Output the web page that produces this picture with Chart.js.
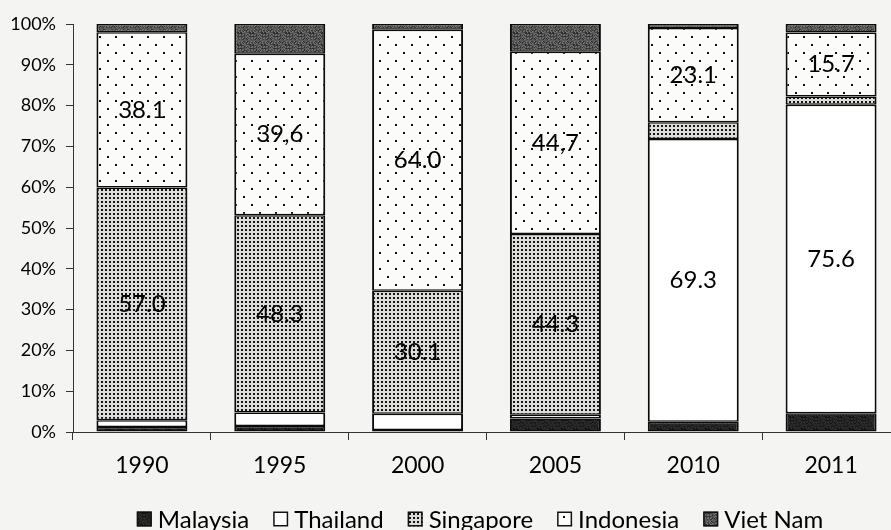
<!DOCTYPE html>
<html>
<head>
<meta charset="utf-8">
<script src="https://cdn.jsdelivr.net/npm/chart.js@4"></script>
<style>
  html, body { margin: 0; padding: 0; background: #f4f4f2; overflow: hidden; }
  #wrap { width: 905px; height: 530px; }
</style>
</head>
<body>
<div id="wrap"><canvas id="chart" width="905" height="530"></canvas></div>
<script>
// categories and shares (%), bottom to top of each bar
const years = ['1990', '1995', '2000', '2005', '2010', '2011'];
const malaysia  = [1.2, 1.5, 0.5, 3.3, 2.5, 4.6];
const thailand  = [1.7, 3.3, 4.0, 0.9, 69.3, 75.6];
const singapore = [57.0, 48.3, 30.1, 44.3, 4.1, 2.0];
const indonesia = [38.1, 39.6, 64.0, 44.7, 23.1, 15.7];
const vietnam   = [2.0, 7.3, 1.4, 6.8, 1.0, 2.1];

// printed values inside the bars (null = no label)
const thailandLabels  = [null, null, null, null, '69.3', '75.6'];
const singaporeLabels = ['57.0', '48.3', '30.1', '44.3', null, null];
const indonesiaLabels = ['38.1', '39,6', '64.0', '44,7', '23.1', '15.7'];

const FONT = 'Lato, "Open Sans", sans-serif';

// ---- fill patterns ----
function makePattern(w, h, draw){
  const c = document.createElement('canvas');
  c.width = w; c.height = h;
  const g = c.getContext('2d');
  draw(g);
  return g.createPattern(c, 'repeat');
}

// grainy dark fill, deterministic speckle
function speckle(base, spread){
  return makePattern(12, 12, g=>{
    for (let y = 0; y < 12; y++){
      for (let x = 0; x < 12; x++){
        const n = ((x * 37 + y * 53 + x * y * 11) % 9) - 4;
        const v = Math.max(0, Math.min(255, base + n * spread));
        g.fillStyle = `rgb(${v},${v},${v})`;
        g.fillRect(x, y, 1, 1);
      }
    }
  });
}

const fillMalaysia = speckle(34, 4);
const fillThailand = '#ffffff';
const fillSingapore = makePattern(4, 4, g=>{
  g.fillStyle = '#dcdcda'; g.fillRect(0, 0, 4, 4);
  g.fillStyle = '#141414'; g.fillRect(1, 1, 2, 2);
});
const fillIndonesia = makePattern(16, 16, g=>{
  g.fillStyle = '#fbfbfa'; g.fillRect(0, 0, 16, 16);
  g.fillStyle = '#111';
  g.fillRect(3, 4, 2, 2);
  g.fillRect(11, 12, 2, 2);
});
const fillVietnam = speckle(80, 9);

const barBorder = { left: 2, right: 2, top: 1.5, bottom: 1.5 };

function ds(label, data, fill, labels){
  return {
    label, data,
    backgroundColor: fill,
    borderColor: '#0a0a0a',
    borderWidth: barBorder,
    borderSkipped: false,
    categoryPercentage: 0.66,
    barPercentage: 1.0,
    valueLabels: labels || null
  };
}

// value text centred in each labelled segment
const segmentLabels = {
  id: 'segmentLabels',
  afterDatasetsDraw(chart){
    const ctx = chart.ctx;
    ctx.save();
    ctx.font = '24px ' + FONT;
    ctx.fillStyle = '#000';
    ctx.textAlign = 'center';
    ctx.textBaseline = 'middle';
    chart.data.datasets.forEach((d, i)=>{
      if (!d.valueLabels) return;
      chart.getDatasetMeta(i).data.forEach((bar, j)=>{
        const t = d.valueLabels[j];
        if (!t) return;
        ctx.fillText(t, bar.x, (bar.y + bar.base) / 2);
      });
    });
    ctx.restore();
  }
};

// legend row along the bottom
const bottomLegend = {
  id: 'bottomLegend',
  afterDraw(chart){
    const ctx = chart.ctx;
    const box = 15, gapText = 6, gapItem = 24, cy = 519, centre = 480;
    ctx.save();
    ctx.font = '24px ' + FONT;
    ctx.textBaseline = 'middle';
    const items = chart.data.datasets.map(d=>({ d, w: ctx.measureText(d.label).width }));
    const total = items.reduce((s, it)=> s + box + gapText + it.w, 0) + gapItem * (items.length - 1);
    let x = centre - total / 2;
    items.forEach(it=>{
      ctx.fillStyle = it.d.backgroundColor;
      ctx.fillRect(x, cy - box / 2, box, box);
      ctx.strokeStyle = '#111';
      ctx.lineWidth = 1.5;
      ctx.strokeRect(x + 0.75, cy - box / 2 + 0.75, box - 1.5, box - 1.5);
      ctx.fillStyle = '#000';
      ctx.fillText(it.d.label, x + box + gapText, cy + 1);
      x += box + gapText + it.w + gapItem;
    });
    ctx.restore();
  }
};

new Chart(document.getElementById('chart'), {
  type: 'bar',
  data: {
    labels: years,
    datasets: [
      ds('Malaysia', malaysia, fillMalaysia),
      ds('Thailand', thailand, fillThailand, thailandLabels),
      ds('Singapore', singapore, fillSingapore, singaporeLabels),
      ds('Indonesia', indonesia, fillIndonesia, indonesiaLabels),
      ds('Viet Nam', vietnam, fillVietnam)
    ]
  },
  options: {
    responsive: false,
    animation: false,
    layout: { padding: { top: 24, right: 5, bottom: 48, left: 0 } },
    plugins: { legend: { display: false }, tooltip: { enabled: false } },
    scales: {
      x: {
        stacked: true,
        offset: true,
        grid: { offset: true, drawOnChartArea: false, tickLength: 8, color: '#333', tickColor: '#333' },
        border: { color: '#333', width: 1 },
        ticks: { color: '#000', font: { family: FONT, size: 23 }, padding: 12 },
        afterFit(s){ s.height = 50; }
      },
      y: {
        stacked: true,
        min: 0, max: 100,
        grid: { drawOnChartArea: false, tickLength: 7, color: '#333', tickColor: '#333' },
        border: { color: '#333', width: 1 },
        ticks: { stepSize: 10, color: '#000', font: { family: FONT, size: 18 }, padding: 10,
                 callback: v=> v + '%' },
        afterFit(s){ s.width = 73; }
      }
    }
  },
  plugins: [segmentLabels, bottomLegend]
});
</script>
</body>
</html>
